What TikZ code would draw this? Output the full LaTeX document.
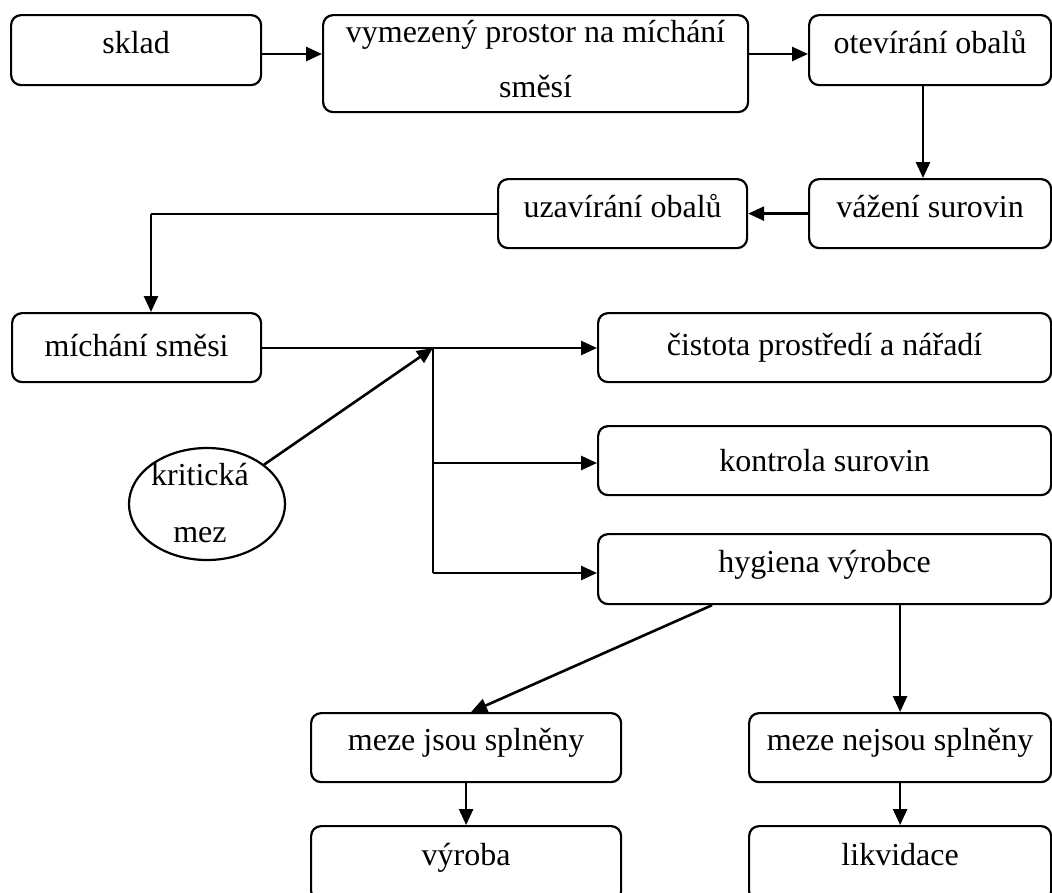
\documentclass[tikz,border=0pt]{standalone}
\usepackage{fontspec}
\setmainfont{Liberation Serif}
\usetikzlibrary{arrows.meta,calc,shapes.geometric}
\begin{document}
\begin{tikzpicture}[x=1pt,y=-1pt,
  stepbox/.style={draw,line width=2.2pt,rounded corners=10pt,inner sep=0pt,
    anchor=north west},
  txt/.style={font=\fontsize{32}{38}\selectfont,inner sep=0pt,anchor=base},
  arr/.style={line width=2.6pt,-{Triangle[length=16pt,width=14pt]}},
  thin/.style={line width=2.2pt}]
% canvas
\useasboundingbox (0,0) rectangle (1052,892);
\fill[white] (0,0) rectangle (1052,892);
\clip (0,0) rectangle (1052,892);

% boxes
\node[stepbox,minimum width=250pt,minimum height=70pt] (sklad) at (10,14) {};
\node[stepbox,minimum width=425pt,minimum height=97pt] (vym) at (322,14) {};
\node[stepbox,minimum width=242pt,minimum height=70pt] (open) at (808,14) {};
\node[stepbox,minimum width=242pt,minimum height=69pt] (weigh) at (808,178) {};
\node[stepbox,minimum width=249pt,minimum height=69pt] (close) at (497,178) {};
\node[stepbox,minimum width=249pt,minimum height=69pt] (mix) at (11,312) {};
\node[stepbox,minimum width=453pt,minimum height=69pt] (clean) at (597,312) {};
\node[stepbox,minimum width=453pt,minimum height=69pt] (ctrl) at (597,425) {};
\node[stepbox,minimum width=453pt,minimum height=70pt] (hyg) at (597,533) {};
\node[stepbox,minimum width=310pt,minimum height=69pt] (okay) at (310,712) {};
\node[stepbox,minimum width=302pt,minimum height=69pt] (notok) at (748,712) {};
\node[stepbox,minimum width=310pt,minimum height=75pt] (prod) at (310,825) {};
\node[stepbox,minimum width=302pt,minimum height=75pt] (disp) at (748,825) {};
\node[draw,line width=2.2pt,ellipse,minimum width=156pt,minimum height=112pt,
  inner sep=0pt] (crit) at (207,504) {};

% labels
\node[txt] (sklad-t) at (sklad.north |- 0,53) {sklad};
\node[txt] (vym-t1) at (vym.north |- 0,42) {vymezený prostor na míchání};
\node[txt] (vym-t2) at (vym.north |- 0,97) {směsí};
\node[txt] (open-t) at (open.north |- 0,53) {otevírání obalů};
\node[txt] (weigh-t) at (weigh.north |- 0,217) {vážení surovin};
\node[txt] (close-t) at (close.north |- 0,217) {uzavírání obalů};
\node[txt] (mix-t) at (mix.north |- 0,356) {míchání směsi};
\node[txt] (clean-t) at (clean.north |- 0,355) {čistota prostředí a nářadí};
\node[txt] (ctrl-t) at (ctrl.north |- 0,471) {kontrola surovin};
\node[txt] (hyg-t) at (hyg.north |- 0,572) {hygiena výrobce};
\node[txt] (okay-t) at (okay.north |- 0,750) {meze jsou splněny};
\node[txt] (notok-t) at (notok.north |- 0,750) {meze nejsou splněny};
\node[txt] (prod-t) at (prod.north |- 0,865) {výroba};
\node[txt] (disp-t) at (disp.north |- 0,865) {likvidace};
\node[txt] (crit-t1) at (200,485) {kritická};
\node[txt] (crit-t2) at (200,542) {mez};

% helper points
\coordinate (r1) at (0,54);
\coordinate (down1) at (923,0);
\coordinate (feed) at (151,0);
\coordinate (j) at (433,348);
\coordinate (r2) at (0,463);
\coordinate (r3) at (0,573);

% connectors
\draw[arr] (sklad.east |- r1) -- (vym.west |- r1);
\draw[arr] (vym.east |- r1) -- (open.west |- r1);
\draw[arr] (open.south -| down1) -- (weigh.north -| down1);
\draw[arr] (weigh.west) -- (close.east);
\draw[thin] (close.west) -- (close.west -| feed);
\draw[arr] (close.west -| feed) -- (mix.north -| feed);
\draw[arr] (mix.east |- j) -- (clean.west |- j);
\draw[thin] (j) -- (j |- r3);
\draw[arr] (j |- r2) -- (ctrl.west |- r2);
\draw[arr] (j |- r3) -- (hyg.west |- r3);
\draw[arr] (crit) -- (j);
\draw[arr] ($(hyg.south west)+(115,0)$) -- ($(okay.north)+(5,0)$);
\draw[arr] (hyg.south -| notok.north) -- (notok.north);
\draw[arr] (okay.south) -- (prod.north);
\draw[arr] (notok.south) -- (disp.north);
\end{tikzpicture}
\end{document}
